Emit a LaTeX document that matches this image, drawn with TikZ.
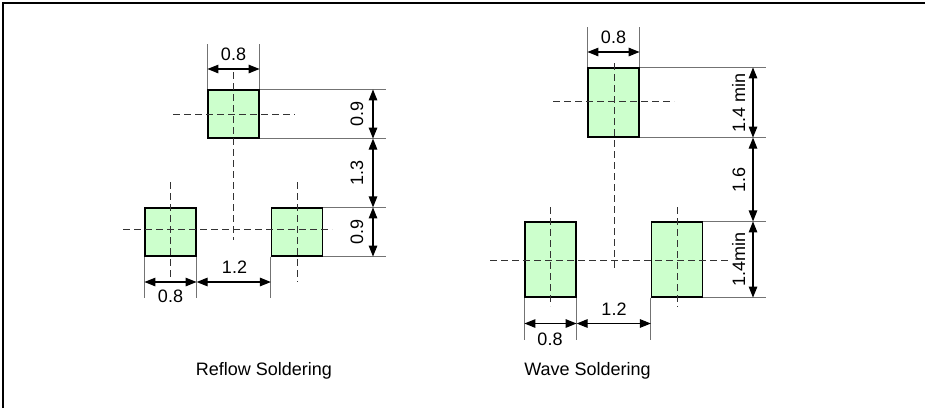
\documentclass[tikz,border=0pt]{standalone}
\usepackage{fontspec}
\setmainfont{Liberation Sans}
\usetikzlibrary{arrows.meta}
\definecolor{padgreen}{HTML}{CCFFCC}
\tikzset{
  pad/.style={draw, fill=padgreen, line width=1.2pt, minimum width=51pt, minimum height=48pt, inner sep=0pt},
  extline/.style={draw=black!55, line width=0.9pt},
  centerline/.style={draw=black!80, line width=1pt, dash pattern=on 7pt off 4pt},
  dimline/.style={line width=1.2pt, {Triangle[length=11pt,width=8.5pt]}-{Triangle[length=11pt,width=8.5pt]}},
  dimlabel/.style={inner sep=0pt, anchor=base, font=\fontsize{18}{20}\selectfont},
}
\begin{document}
\begin{tikzpicture}[x=1pt, y=-1pt]
  \useasboundingbox (0,0) rectangle (925,408);
  \draw[line width=1.2pt] (3,408) -- (3,3) -- (925,3);

  % reflow soldering
  \node[pad] (rT) at (233.5,114) {};
  \node[pad] (rL) at (170.5,232) {};
  \node[pad] (rR) at (297,232) {};
  \draw[centerline] (173,114) -- (295,114) (233.5,72) -- (233.5,240);
  \draw[centerline] (123,229) -- (332,229) (170.5,182) -- (170.5,283) (297,182) -- (297,282);

  \coordinate (rTopExt) at (0,44);
  \coordinate (rTopDim) at (0,69);
  \coordinate (rBotExt) at (0,298);
  \coordinate (rBotDim) at (0,282);
  \coordinate (rSideExt) at (386,0);
  \coordinate (rSideDim) at (373,0);

  \draw[extline] (rT.north west) -- (rT.north west |- rTopExt) (rT.north east) -- (rT.north east |- rTopExt);
  \draw[dimline] (rT.north west |- rTopDim) -- (rT.north east |- rTopDim);
  \node[dimlabel] (rTopLab) at (233.5,60.7) {0.8};

  \draw[extline] (rL.south west) -- (rL.south west |- rBotExt) (rL.south east) -- (rL.south east |- rBotExt)
    (rR.south west) -- (rR.south west |- rBotExt);
  \draw[dimline] (rL.south west |- rBotDim) -- (rL.south east |- rBotDim);
  \draw[dimline] (rL.south east |- rBotDim) -- (rR.south west |- rBotDim);
  \node[dimlabel] (rPadLab) at (170.5,302.7) {0.8};
  \node[dimlabel] (rGapLab) at (234.5,273.3) {1.2};

  \draw[extline] (rT.north east) -- (rT.north east -| rSideExt) (rT.south east) -- (rT.south east -| rSideExt)
    (rR.north east) -- (rR.north east -| rSideExt) (rR.south east) -- (rR.south east -| rSideExt);
  \draw[dimline] (rT.north east -| rSideDim) -- (rT.south east -| rSideDim);
  \draw[dimline] (rT.south east -| rSideDim) -- (rR.north east -| rSideDim);
  \draw[dimline] (rR.north east -| rSideDim) -- (rR.south east -| rSideDim);
  \node[dimlabel, rotate=90] (rHLab) at (363,114) {0.9};
  \node[dimlabel, rotate=90] (rSpLab) at (363,173) {1.3};
  \node[dimlabel, rotate=90] (rH2Lab) at (363,232) {0.9};

  \node[dimlabel] (rTitle) at (264,375.5) {Reflow Soldering};

  % wave soldering
  \node[pad, minimum height=69pt] (wT) at (613.5,102.5) {};
  \node[pad, minimum height=75pt] (wL) at (550.5,259.5) {};
  \node[pad, minimum height=75pt] (wR) at (677,259.5) {};
  \draw[centerline] (553,101) -- (674,101) (614,63) -- (614,268);
  \draw[centerline] (490,260.7) -- (730,260.7) (550,207) -- (550,306) (677,207) -- (677,307);

  \coordinate (wTopExt) at (0,27);
  \coordinate (wTopDim) at (0,52);
  \coordinate (wBotExt) at (0,340);
  \coordinate (wBotDim) at (0,323.5);
  \coordinate (wSideExt) at (766,0);
  \coordinate (wSideDim) at (753,0);

  \draw[extline] (wT.north west) -- (wT.north west |- wTopExt) (wT.north east) -- (wT.north east |- wTopExt);
  \draw[dimline] (wT.north west |- wTopDim) -- (wT.north east |- wTopDim);
  \node[dimlabel] (wTopLab) at (613.5,43.3) {0.8};

  \draw[extline] (wL.south west) -- (wL.south west |- wBotExt) (wL.south east) -- (wL.south east |- wBotExt)
    (wR.south west) -- (wR.south west |- wBotExt);
  \draw[dimline] (wL.south west |- wBotDim) -- (wL.south east |- wBotDim);
  \draw[dimline] (wL.south east |- wBotDim) -- (wR.south west |- wBotDim);
  \node[dimlabel] (wPadLab) at (550,345) {0.8};
  \node[dimlabel] (wGapLab) at (614,315) {1.2};

  \draw[extline] (wT.north east) -- (wT.north east -| wSideExt) (wT.south east) -- (wT.south east -| wSideExt)
    (wR.north east) -- (wR.north east -| wSideExt) (wR.south east) -- (wR.south east -| wSideExt);
  \draw[dimline] (wT.north east -| wSideDim) -- (wT.south east -| wSideDim);
  \draw[dimline] (wT.south east -| wSideDim) -- (wR.north east -| wSideDim);
  \draw[dimline] (wR.north east -| wSideDim) -- (wR.south east -| wSideDim);
  \node[dimlabel, rotate=90] (wHLab) at (745,102.5) {1.4 min};
  \node[dimlabel, rotate=90] (wSpLab) at (745,180) {1.6};
  \node[dimlabel, rotate=90] (wH2Lab) at (745,259.5) {1.4min};

  \node[dimlabel] (wTitle) at (587.5,375.5) {Wave Soldering};
\end{tikzpicture}
\end{document}
